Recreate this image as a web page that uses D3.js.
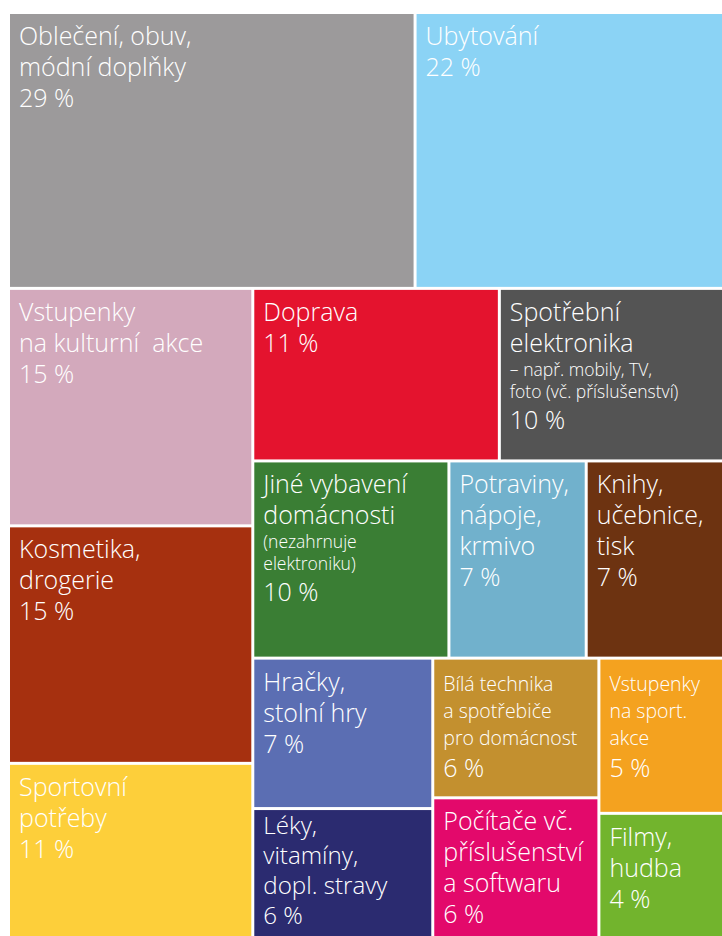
<!DOCTYPE html>
<html>
<head>
<meta charset="utf-8">
<script src="https://cdn.jsdelivr.net/npm/d3@7"></script>
<style>
  html, body { margin: 0; padding: 0; background: #ffffff; }
  svg { display: block; }
  text { font-family: "Open Sans", "Noto Sans", sans-serif; font-weight: 300; fill: #ffffff; white-space: pre; }
</style>
</head>
<body>
<svg id="chart" width="722" height="936"></svg>
<script>
// Category names (line breaks as drawn), in reading order
const categories = [
  "Oblečení, obuv,\nmódní doplňky",
  "Ubytování",
  "Vstupenky\nna kulturní  akce",
  "Kosmetika,\ndrogerie",
  "Sportovní\npotřeby",
  "Doprava",
  "Spotřební\nelektronika",
  "Jiné vybavení\ndomácnosti",
  "Potraviny,\nnápoje,\nkrmivo",
  "Knihy,\nučebnice,\ntisk",
  "Hračky,\nstolní hry",
  "Léky,\nvitamíny,\ndopl. stravy",
  "Bílá technika\na spotřebiče\npro domácnost",
  "Počítače vč.\npříslušenství\na softwaru",
  "Vstupenky\nna sport.\nakce",
  "Filmy,\nhudba"
];

// Secondary notes printed under some category names
const notes = [
  "", "", "", "", "", "",
  "– např. mobily, TV,\nfoto (vč. příslušenství)",
  "(nezahrnuje\nelektroniku)",
  "", "", "", "", "", "", "", ""
];

// Share of purchases, percent
const values = [29, 22, 15, 15, 11, 11, 10, 10, 7, 7, 7, 6, 6, 6, 5, 4];

// Tile fill colours, one per category
const colors = [
  "#9c9a9b", "#8bd3f5", "#d3a9bc", "#a6300f", "#fdcf3a", "#e4132e",
  "#545454", "#3a7e34", "#71b1cc", "#6d3311", "#5b6eb3", "#2b2b70",
  "#c3902f", "#e3096b", "#f4a21f", "#72b42d"
];

// Nesting of categories into rows and columns (indices into the arrays above)
const grouping = [
  [0, 1],
  [
    [2, 3, 4],
    [[5, 6], [7, 8, 9], [[10, 11], [12, 13], [14, 15]]]
  ]
];

// Categories whose names use the narrower type size
const compactNames = new Set([12, 14]);

const margin = { left: 10, top: 14 };
const width = 722 - margin.left;
const height = 936 - margin.top;

function build(g) {
  return Array.isArray(g)
    ? { children: g.map(build) }
    : { index: g, value: values[g] };
}

const root = d3.hierarchy(build(grouping)).sum(d => d.children ? 0 : d.value);

// Alternate vertical stacking and horizontal placement by depth
const tile = (node, x0, y0, x1, y1) =>
  (node.depth % 2 === 0 ? d3.treemapSlice : d3.treemapDice)(node, x0, y0, x1, y1);

d3.treemap()
  .size([width, height])
  .paddingInner(3)
  .tile(tile)(root);

const svg = d3.select("#chart");
const g = svg.append("g").attr("transform", `translate(${margin.left},${margin.top})`);

const leaves = root.leaves();

const cell = g.selectAll("g.cell")
  .data(leaves)
  .join("g")
  .attr("class", "cell")
  .attr("transform", d => `translate(${d.x0},${d.y0})`);

cell.append("rect")
  .attr("width", d => d.x1 - d.x0)
  .attr("height", d => d.y1 - d.y0)
  .attr("fill", d => colors[d.data.index]);

// Type sizes and baseline gaps
const sizes = { big: 25, compact: 19.5, small: 17.5 };
function gap(prev, kind) {
  if (kind === "small") return prev === "small" ? 22 : 24;
  if (kind === "compact") return 27;
  return prev === "compact" ? 32 : 31;
}

const firstBaseline = 31;
const minFirstBaseline = 24;
const bottomClearance = 12;

cell.each(function(d) {
  const i = d.data.index;
  const h = d.y1 - d.y0;
  const nameKind = compactNames.has(i) ? "compact" : "big";
  const lines = [];
  categories[i].split("\n").forEach(t => lines.push({ t, kind: nameKind }));
  if (notes[i]) notes[i].split("\n").forEach(t => lines.push({ t, kind: "small" }));
  lines.push({ t: `${values[i]} %`, kind: "big" });

  const gaps = lines.map((l, k) => k === 0 ? 0 : gap(lines[k - 1].kind, l.kind));
  const total = d3.sum(gaps);
  let start = firstBaseline;
  let scale = 1;
  // Keep the label block inside short tiles: tighten leading and type together
  if (start + total > h - bottomClearance) {
    start = Math.max(minFirstBaseline, h - bottomClearance - total);
    scale = Math.min(1, (h - bottomClearance - start) / total);
  }

  let y = start;
  lines.forEach((l, k) => {
    y += gaps[k] * scale;
    l.y = y;
  });

  d3.select(this).selectAll("text")
    .data(lines)
    .join("text")
    .attr("x", 9)
    .attr("y", l => l.y)
    .attr("font-size", l => sizes[l.kind] * scale)
    .text(l => l.t);
});
</script>
</body>
</html>
